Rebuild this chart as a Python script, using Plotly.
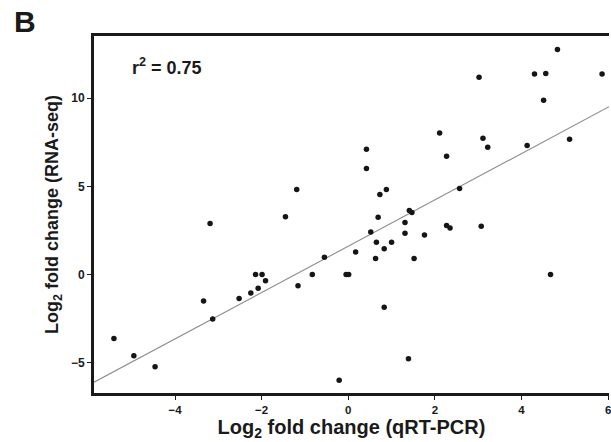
import plotly.graph_objects as go

# qRT-PCR log2 fold change (x) vs RNA-seq log2 fold change (y)
qrt_pcr = [-5.41, -4.95, -4.46, -3.19, -3.34, -3.13, -2.52, -2.25, -2.08, -2.14,
           -1.99, -1.91, -1.45, -1.19, -1.16, -0.83, -0.55, -0.21, -0.05, 0.01,
           0.17, 0.42, 0.42, 0.52, 0.63, 0.65, 0.69, 0.73, 0.83, 0.83,
           0.88, 1.00, 1.31, 1.31, 1.39, 1.41, 1.47, 1.52, 1.76, 2.11,
           2.27, 2.27, 2.35, 2.57, 3.02, 3.07, 3.11, 3.22, 4.13, 4.30,
           4.51, 4.56, 4.67, 4.83, 5.11, 5.86]
rna_seq = [-3.63, -4.61, -5.24, 2.89, -1.51, -2.53, -1.36, -1.06, -0.79, 0.00,
           0.00, -0.36, 3.27, 4.82, -0.64, 0.00, 0.98, -6.01, 0.00, 0.00,
           1.27, 7.11, 6.01, 2.40, 0.91, 1.83, 3.25, 4.54, 1.45, -1.87,
           4.82, 1.83, 2.94, 2.34, -4.78, 3.63, 3.51, 0.91, 2.23, 8.03,
           6.71, 2.77, 2.63, 4.88, 11.19, 2.74, 7.73, 7.22, 7.32, 11.37,
           9.88, 11.40, 0.00, 12.76, 7.67, 11.37]

fit_slope = 1.315
fit_intercept = 1.60
x_range = [-5.87, 6.02]
y_range = [-6.73, 13.53]
x_ticks = [-4, -2, 0, 2, 4, 6]
y_ticks = [-5, 0, 5, 10]
r2_label = "r<sup>2</sup> = 0.75"
panel_label = "B"

line_x = list(x_range)
line_y = [fit_slope * v + fit_intercept for v in line_x]

fig = go.Figure()
fig.add_trace(go.Scatter(x=line_x, y=line_y, mode="lines",
                         line=dict(color="#8c8c8c", width=1.1),
                         hoverinfo="skip", showlegend=False))
fig.add_trace(go.Scatter(x=qrt_pcr, y=rna_seq, mode="markers",
                         marker=dict(color="#151515", size=5.5),
                         showlegend=False))

font_family = "Liberation Sans, Arial, sans-serif"

fig.update_layout(
    width=611, height=442,
    margin=dict(l=94, r=0, t=36, b=49),
    paper_bgcolor="white", plot_bgcolor="white",
    font=dict(family=font_family, color="#1a1a1a"),
    xaxis=dict(range=x_range, tickvals=x_ticks, showgrid=False, zeroline=False,
               showline=True, linecolor="#1a1a1a", linewidth=3, mirror=True,
               ticks="outside", ticklen=4, tickwidth=1.2, tickcolor="#1a1a1a",
               ticklabeloverflow="allow",
               tickfont=dict(size=11.5, weight="bold", color="#1a1a1a"),
               title=dict(text="Log<sub>2</sub> fold change (qRT-PCR)",
                          font=dict(size=20, weight="bold", color="#1a1a1a"),
                          standoff=6)),
    yaxis=dict(range=y_range, tickvals=y_ticks, showgrid=False, zeroline=False,
               showline=True, linecolor="#1a1a1a", linewidth=3, mirror=False,
               ticks="outside", ticklen=4, tickwidth=1.2, tickcolor="#1a1a1a",
               tickfont=dict(size=12, weight="bold", color="#1a1a1a"),
               title=dict(text="Log<sub>2</sub> fold change (RNA-seq)",
                          font=dict(size=18, weight="bold", color="#1a1a1a"),
                          standoff=8)),
    annotations=[
        dict(text=r2_label, xref="paper", yref="paper", x=0.07, y=0.915,
             xanchor="left", yanchor="middle", showarrow=False,
             font=dict(size=18, weight="bold", color="#1a1a1a")),
        dict(text=panel_label, xref="paper", yref="paper", x=-0.16, y=1.0,
             xanchor="left", yanchor="bottom", showarrow=False, yshift=-4,
             font=dict(size=30, weight="bold", color="#1a1a1a")),
    ],
)

fig.write_html("out.html", config={"displayModeBar": False},
               post_script="document.body.style.margin='0';document.body.style.overflow='hidden';")
